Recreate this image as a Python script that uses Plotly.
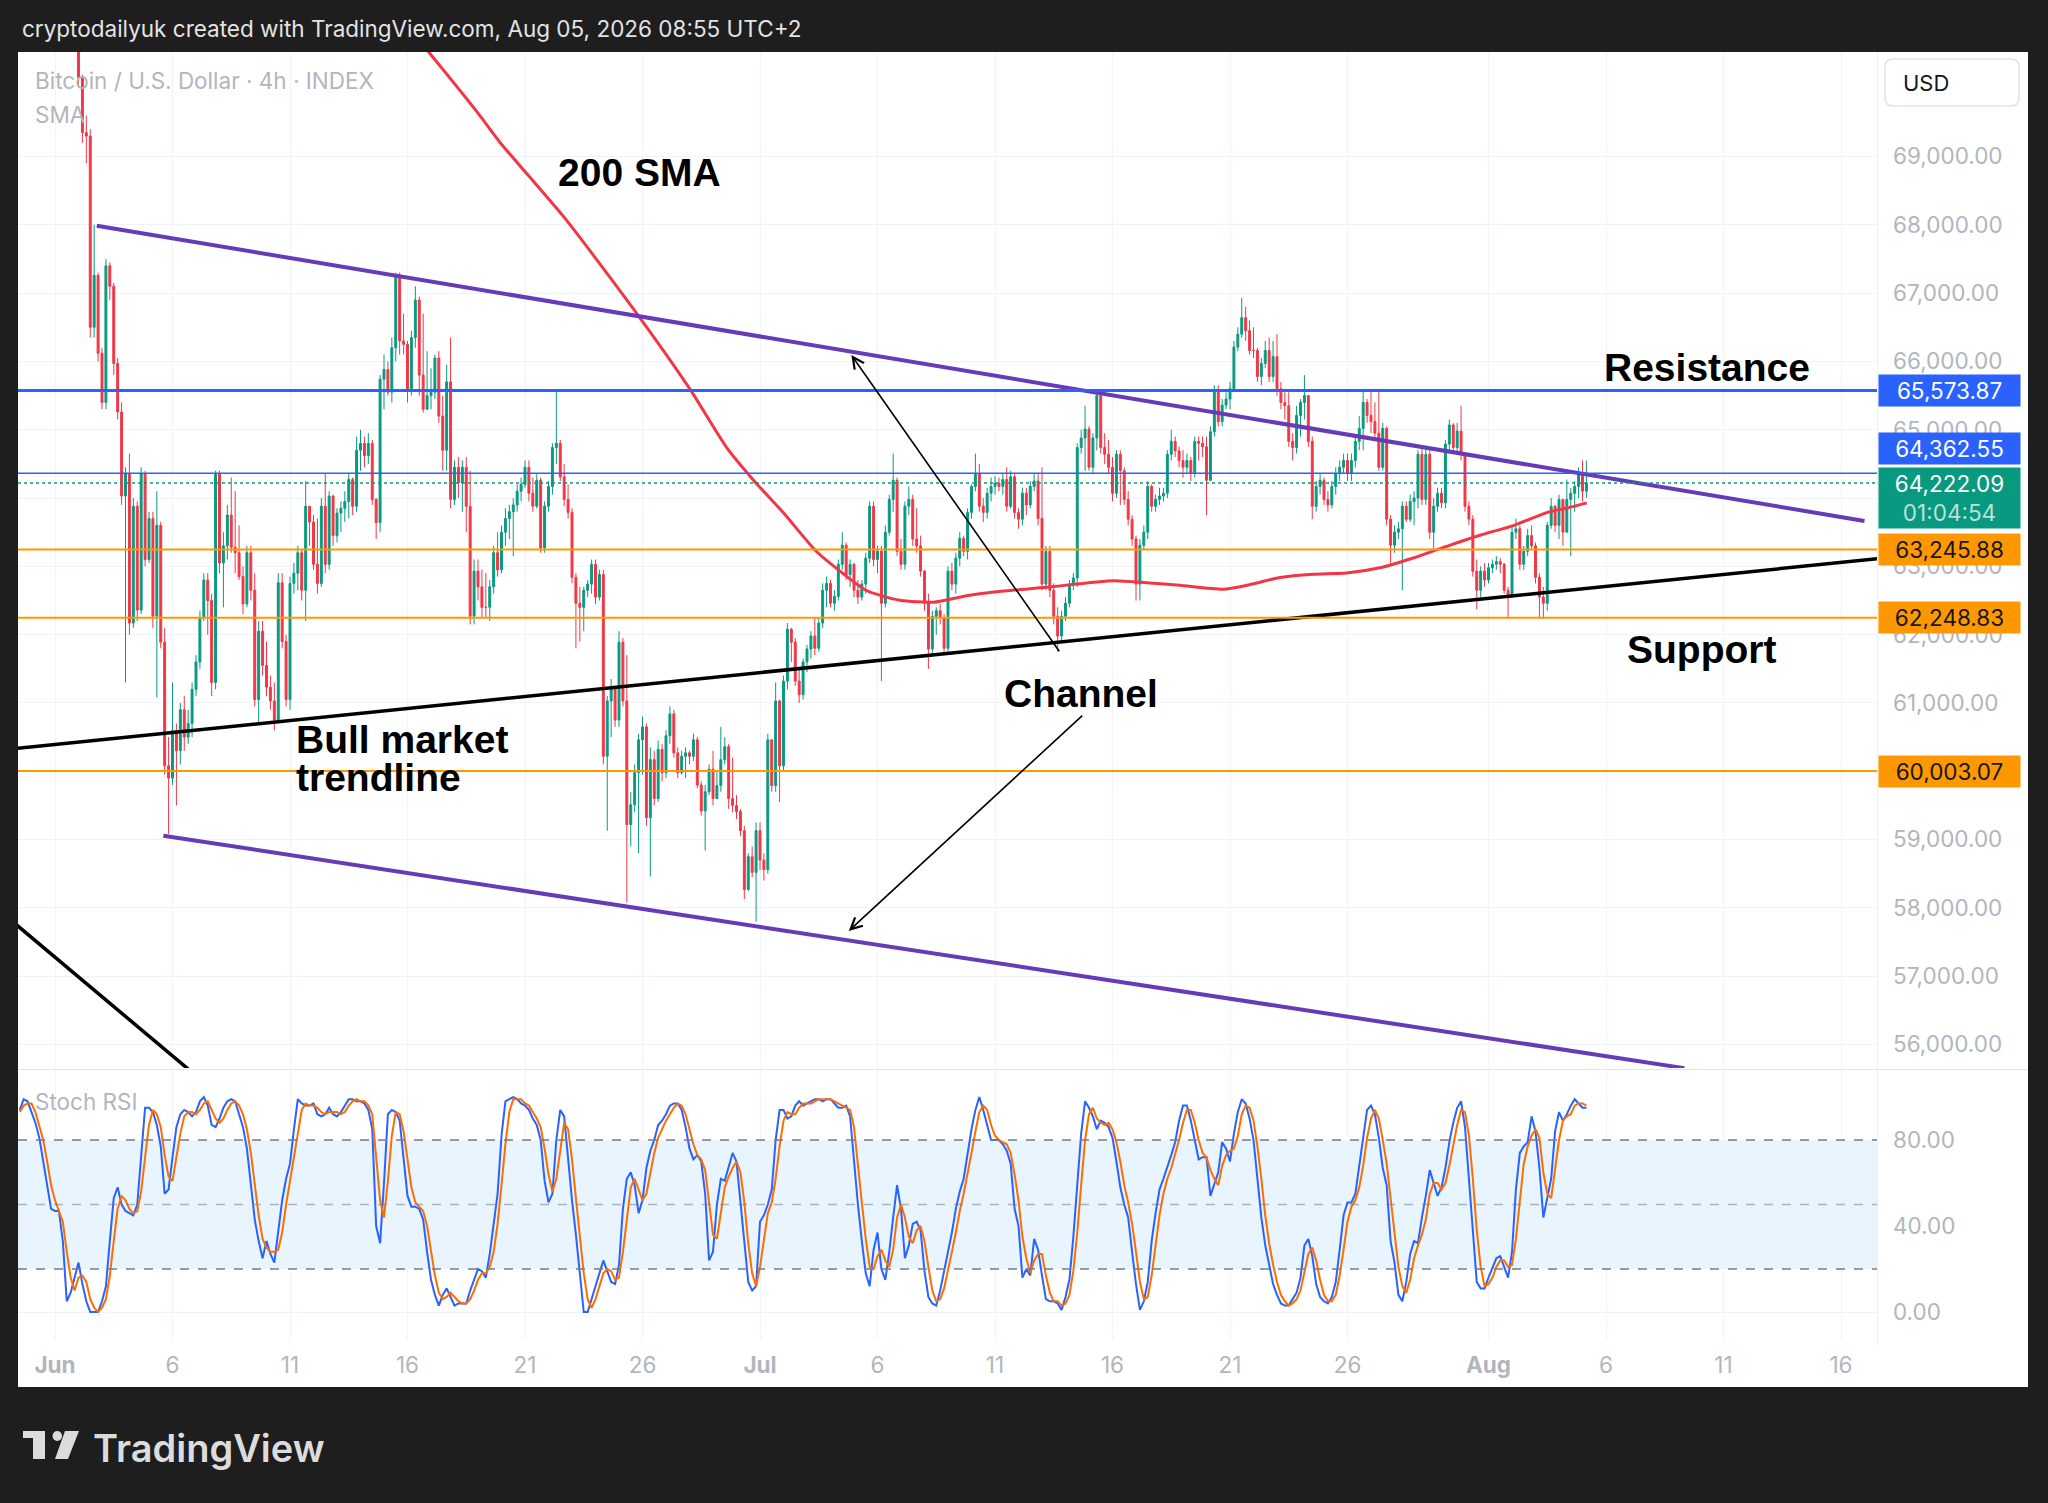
import numpy as np
import pandas as pd
import plotly.graph_objects as go

W, H = 2048, 1503

# ---------------- data ----------------
candle_start = "2026-06-02 00:00"
first_open = 71300
close_px = [
    70150, 69350, 69300, 66500, 67260, 66120,
    65400, 67400, 67100, 65970, 65260, 64030,
    64360, 62170, 63880, 62360, 64360, 63100,
    63700, 62270, 63600, 61890, 60080, 59900,
    60600, 60300, 60900, 60500, 60700, 61200,
    61600, 62250, 62800, 62500, 61300, 64350,
    63050, 63300, 63750, 63280, 63200, 62850,
    62450, 63200, 62650, 61050, 62050, 61550,
    61230, 61030, 60750, 62760, 61900, 61050,
    62750, 62900, 63200, 62650, 63880, 63650,
    63030, 62750, 63880, 63030, 64030, 63450,
    63780, 63850, 63950, 64270, 63880, 64700,
    64800, 64620, 64800, 63980, 63640, 65740,
    65880, 65550, 66200, 67250, 66300, 66250,
    65600, 66350, 66900, 65800, 65300, 65500,
    65550, 66050, 65200, 64700, 65700, 63980,
    64450, 64220, 64450, 63880, 62270, 62930,
    62700, 62400, 62400, 62700, 63200, 62950,
    63500, 63700, 63800, 63900, 64100, 64200,
    64450, 64070, 63880, 64260, 63270, 63880,
    64170, 64740, 64800, 64310, 63980, 63790,
    62840, 62460, 62400, 62650, 62740, 63030,
    62550, 62880, 60220, 61030, 61220, 60750,
    61890, 61030, 59220, 59510, 59980, 60460,
    60650, 59320, 60170, 59600, 60320, 59980,
    60520, 60840, 60270, 59980, 60220, 60270,
    60220, 60460, 59800, 59420, 59700, 60030,
    59600, 59790, 60170, 60360, 59600, 59500,
    59410, 59130, 58270, 58750, 58520, 59130,
    58700, 58560, 60460, 59790, 61030, 60080,
    61320, 62080, 61890, 61320, 61120, 61600,
    61790, 61980, 61800, 62170, 62650, 62750,
    62460, 62560, 63030, 63310, 62880, 63030,
    62650, 62550, 62740, 63120, 63880, 63100,
    63220, 62460, 63500, 63980, 64260, 63220,
    63030, 63880, 63980, 63400, 63300, 62930,
    62460, 61790, 62270, 62350, 62250, 61800,
    62930, 62740, 63120, 63410, 63220, 63790,
    64170, 64360, 63880, 63790, 64070, 64170,
    64220, 64170, 64270, 63880, 64310, 63790,
    63690, 64070, 63900, 64170, 64250, 63700,
    62740, 63220, 62650, 62270, 61980, 62270,
    62460, 62740, 62830, 64740, 64880, 65010,
    64450, 64880, 65500, 64740, 64640, 64450,
    64070, 64640, 64400, 63980, 63690, 63400,
    62740, 63310, 63500, 64170, 63880, 63980,
    64030, 64070, 64640, 64830, 64690, 64550,
    64450, 64550, 64360, 64830, 64800, 64750,
    64260, 64970, 65590, 65120, 65360, 65450,
    65600, 66210, 66400, 66640, 66450, 66160,
    66160, 65780, 65970, 66160, 65780, 66070,
    65600, 65400, 65350, 64830, 64740, 65210,
    65400, 65500, 64830, 63880, 64170, 64260,
    63980, 63900, 64170, 64360, 64450, 64550,
    64360, 64550, 64830, 65020, 65400, 65210,
    65120, 64950, 64450, 65020, 63690, 63310,
    63500, 63550, 63880, 63690, 63950, 64000,
    64640, 63980, 64640, 63500, 63880, 64070,
    63930, 64790, 65070, 64740, 64980, 64640,
    63880, 63690, 62930, 62650, 62930, 62800,
    62980, 63030, 63070, 63030, 62650, 62550,
    63500, 63550, 63030, 63220, 63450, 63300,
    62840, 62550, 62460, 63600, 63880, 63600,
    63980, 63500, 63980, 64070, 64170, 64360,
    64100, 64222.09,
]
high_px = [
    71400, 70200, 69600, 69400, 68000, 67300,
    66200, 67500, 67450, 67150, 66050, 65400,
    64450, 64650, 64000, 63950, 64450, 64400,
    63800, 63800, 64100, 63650, 62100, 60500,
    61300, 60700, 61000, 61100, 60900, 61300,
    61700, 62350, 62900, 62900, 62600, 64400,
    64400, 63500, 63900, 64300, 64100, 63600,
    63000, 63300, 63300, 62900, 62200, 62200,
    61900, 61400, 61300, 62900, 62900, 62000,
    62850, 63050, 63300, 63250, 64250, 63800,
    63750, 63700, 64000, 64360, 64100, 64050,
    63850, 63950, 64100, 64350, 64300, 64900,
    65000, 64900, 64950, 64850, 64000, 65800,
    66100, 66000, 66350, 67300, 67300, 66700,
    66300, 66450, 67100, 66950, 66700, 66150,
    65900, 66100, 66150, 65500, 65950, 66350,
    64550, 64600, 64550, 64600, 64400, 63100,
    63100, 62950, 62900, 62800, 63300, 63500,
    63600, 63850, 63900, 64000, 64200, 64300,
    64550, 64550, 64300, 64350, 64300, 63950,
    64250, 64800, 65580, 64850, 64500, 64200,
    63850, 62900, 62700, 62700, 62800, 63100,
    63100, 62950, 62950, 61100, 61350, 61250,
    62050, 61950, 61700, 59700, 60100, 60550,
    60800, 60700, 60350, 60300, 60450, 60400,
    60600, 60950, 60900, 60350, 60300, 60350,
    60300, 60550, 60500, 59850, 59800, 60100,
    60300, 60000, 60650, 60500, 60400, 60200,
    59650, 59450, 59200, 58800, 58900, 59250,
    59250, 58800, 60550, 60450, 61300, 61050,
    61400, 62170, 62100, 61950, 61500, 61650,
    61850, 62050, 62250, 62250, 62750, 62850,
    62800, 62650, 63100, 63500, 63350, 63100,
    63050, 62800, 62800, 63200, 63950, 63950,
    63300, 63300, 63600, 64050, 64650, 64300,
    63400, 63950, 64170, 64050, 63850, 63450,
    62950, 62600, 62350, 62400, 62450, 62300,
    63000, 63050, 63200, 63500, 63450, 63850,
    64200, 64650, 64500, 64000, 64150, 64300,
    64320, 64300, 64350, 64450, 64400, 64350,
    63850, 64150, 64150, 64250, 64350, 64350,
    64450, 63300, 63300, 62750, 62400, 62350,
    62550, 62800, 62900, 64800, 65000, 65350,
    65050, 64950, 65560, 65450, 64950, 64850,
    64600, 64700, 64700, 64450, 64100, 63750,
    63450, 63400, 63600, 64250, 64200, 64050,
    64150, 64150, 64700, 65000, 64900, 64750,
    64700, 64650, 64600, 64900, 64900, 64900,
    64900, 65050, 65650, 65650, 65450, 65550,
    65700, 66300, 66500, 66930, 66800, 66600,
    66500, 66200, 66050, 66300, 66350, 66300,
    66400, 65700, 65550, 65550, 64950, 65350,
    65450, 65800, 65450, 64900, 64250, 64350,
    64300, 64100, 64250, 64450, 64550, 64650,
    64650, 64650, 64900, 65200, 65600, 65450,
    65600, 65400, 65600, 65100, 65050, 63750,
    63600, 63650, 63950, 63950, 64050, 64100,
    64700, 64750, 64750, 64700, 64000, 64150,
    64150, 64850, 65150, 65100, 65100, 65350,
    64650, 63950, 63750, 63100, 63000, 63050,
    63050, 63100, 63150, 63120, 63050, 62700,
    63600, 63700, 63600, 63300, 63550, 63600,
    63350, 62900, 62700, 63650, 64000, 63900,
    64050, 63950, 64270, 64150, 64250, 64450,
    64550, 64550,
]
low_px = [
    70050, 69200, 68900, 66350, 66350, 66000,
    65300, 65300, 66900, 65800, 65150, 63900,
    61300, 62000, 62100, 62200, 62300, 63000,
    63050, 62100, 61080, 61800, 59950, 59080,
    59800, 59500, 60100, 60300, 60400, 60500,
    61100, 61500, 62200, 62000, 61100, 61200,
    62900, 62400, 63100, 63200, 62900, 62800,
    62300, 62400, 62500, 60950, 60700, 61400,
    61100, 60900, 60600, 60700, 61800, 60950,
    60900, 62600, 62650, 62500, 62200, 63300,
    62950, 62600, 62700, 62900, 62950, 63300,
    63350, 63500, 63650, 63700, 63750, 63800,
    64400, 64450, 64500, 63900, 63400, 63500,
    65300, 65500, 65400, 66000, 66100, 66100,
    65400, 65500, 66200, 65500, 65250, 65300,
    65300, 65450, 65100, 64400, 64400, 63850,
    63900, 64000, 63800, 63500, 62150, 62150,
    62500, 62250, 62250, 62200, 62600, 62850,
    62900, 63300, 63400, 63150, 63800, 63950,
    64150, 63950, 63800, 63850, 63200, 63200,
    63800, 64050, 64500, 64250, 63880, 63700,
    62750, 61800, 61900, 62050, 62550, 62600,
    62450, 62500, 60100, 59130, 60500, 60650,
    60650, 60950, 58080, 58900, 59400, 58800,
    59950, 59200, 58460, 59500, 59550, 59850,
    59900, 60400, 60200, 59900, 59950, 59900,
    60100, 60150, 59750, 59350, 58840, 59650,
    59500, 59600, 59700, 60100, 59450, 59400,
    59300, 59050, 58130, 58250, 58450, 57800,
    58550, 58400, 58500, 59700, 59700, 59550,
    60000, 61200, 61600, 61250, 61000, 61050,
    61450, 61650, 61700, 61750, 62100, 62400,
    62400, 62350, 62500, 62950, 62800, 62700,
    62550, 62450, 62500, 62600, 63050, 63000,
    62900, 61320, 62400, 63450, 63800, 63150,
    62950, 62950, 63750, 63300, 63200, 62850,
    62350, 61500, 61700, 62000, 62150, 61700,
    61750, 62650, 62600, 63000, 63150, 63100,
    63700, 64100, 63800, 63650, 63700, 63950,
    64050, 64100, 64050, 63800, 63850, 63700,
    63550, 63600, 63750, 63850, 64100, 63600,
    62650, 62650, 62550, 62150, 61750, 61900,
    62200, 62400, 62650, 62700, 64650, 64400,
    64400, 64350, 64700, 64650, 64500, 64350,
    63950, 64000, 63900, 63900, 63600, 63300,
    62500, 62500, 63250, 63400, 63800, 63800,
    63900, 63950, 64000, 64550, 64600, 64450,
    64300, 64350, 64250, 64300, 64550, 64600,
    63750, 64250, 64900, 65050, 65050, 65300,
    65300, 65550, 66150, 66350, 66300, 66100,
    66050, 65700, 65650, 65900, 65700, 65700,
    65500, 65300, 65150, 64750, 64550, 64650,
    64900, 65150, 64750, 63690, 63800, 64050,
    63900, 63800, 63850, 64050, 64250, 64350,
    64250, 64250, 64450, 64700, 64700, 65100,
    64950, 64850, 64400, 64400, 63600, 63030,
    63200, 63400, 62650, 63650, 63650, 63600,
    63850, 63900, 63900, 63400, 63250, 63800,
    63850, 63850, 64700, 64650, 64650, 64550,
    63800, 63600, 62850, 62370, 62550, 62700,
    62750, 62900, 62950, 62900, 62600, 62250,
    62550, 63400, 62950, 62950, 63150, 63250,
    62750, 62250, 62230, 62350, 63550, 63500,
    63400, 63300, 63500, 63150, 63800, 64000,
    63950, 64000,
]

sma_time = ["2026-06-16 00:00", "2026-06-16 21:00", "2026-06-19 00:00", "2026-06-19 22:30",
            "2026-06-22 18:30", "2026-06-25 21:20", "2026-06-28 00:30", "2026-06-29 14:00",
            "2026-06-30 17:20", "2026-07-01 23:45", "2026-07-03 09:40", "2026-07-04 09:40",
            "2026-07-05 12:45", "2026-07-06 22:50", "2026-07-08 09:10", "2026-07-09 19:00",
            "2026-07-10 19:00", "2026-07-13 04:50", "2026-07-16 01:00", "2026-07-17 10:50",
            "2026-07-18 20:50", "2026-07-20 17:15", "2026-07-21 17:00", "2026-07-23 03:10",
            "2026-07-24 13:10", "2026-07-25 23:00", "2026-07-27 09:10", "2026-07-28 19:10",
            "2026-07-30 05:15", "2026-07-31 15:20", "2026-08-02 01:25", "2026-08-03 11:30",
            "2026-08-04 07:55", "2026-08-05 04:20"]
sma_val = [70900, 70540, 69634, 69206, 68065, 66639, 65594, 64738, 64262, 63787, 63217, 62931,
           62646, 62503, 62475, 62570, 62618, 62694, 62789, 62760, 62722, 62665, 62722, 62836,
           62884, 62903, 62979, 63122, 63293, 63455, 63597, 63787, 63854, 63930]

stoch_start = "2026-05-30 12:00"
stoch_k = [
    94, 99, 98, 93, 88, 81, 70, 60, 48, 47, 47, 33, 5, 9, 16, 23, 13, 5, 0, 0,
    0, 5, 12, 33, 53, 58, 50, 47, 46, 45, 50, 72, 95, 95, 93, 87, 77, 55, 57, 72,
    86, 92, 94, 93, 91, 93, 98, 100, 96, 87, 86, 90, 95, 98, 99, 98, 92, 86, 76, 60,
    43, 33, 25, 33, 27, 23, 37, 52, 62, 69, 85, 99, 97, 96, 96, 97, 92, 91, 92, 95,
    92, 91, 93, 96, 99, 99, 98, 98, 97, 94, 85, 40, 32, 60, 92, 94, 93, 89, 70, 54,
    49, 49, 48, 43, 28, 15, 8, 3, 8, 11, 7, 3, 4, 4, 4, 10, 15, 20, 19, 16,
    27, 40, 55, 82, 98, 99, 100, 99, 97, 96, 94, 90, 87, 80, 61, 51, 55, 80, 94, 91,
    70, 52, 36, 18, 0, 0, 6, 13, 18, 24, 19, 14, 13, 22, 48, 62, 65, 59, 46, 52,
    67, 75, 80, 87, 89, 92, 96, 97, 97, 94, 86, 76, 71, 73, 70, 55, 24, 28, 50, 62,
    61, 67, 74, 70, 52, 31, 14, 10, 12, 42, 45, 50, 57, 80, 94, 94, 90, 91, 96, 98,
    96, 97, 98, 99, 99, 98, 99, 99, 97, 95, 95, 96, 91, 70, 50, 33, 18, 12, 29, 37,
    20, 15, 28, 44, 59, 48, 25, 31, 41, 42, 38, 19, 7, 4, 3, 10, 19, 27, 37, 48,
    56, 62, 74, 85, 94, 100, 94, 87, 80,
    80, 80, 78, 75, 69, 48, 40, 16, 20, 17, 34, 29, 17, 6, 5, 5, 4, 1, 7, 15,
    35, 60, 83, 98, 95, 91, 85, 89, 88, 86, 81, 70, 58, 50, 44, 28, 13, 1, 5, 14,
    33, 46, 57, 62, 67, 73, 79, 89, 96, 96, 89, 80, 71, 72, 72, 54, 59, 65, 79, 76,
    70, 83, 93, 99, 97, 90, 80, 61, 44, 31, 22, 13, 8, 4, 3, 3, 6, 9, 16, 31,
    34, 26, 13, 7, 5, 4, 7, 14, 29, 45, 51, 51, 55, 67, 81, 94, 96, 92, 81, 67,
    59, 33, 23, 8, 5, 14, 27, 33, 32, 44, 54, 66, 60, 54, 58, 67, 79, 88, 95, 98,
    86, 61, 38, 14, 11, 11, 16, 21, 25, 26, 21, 16, 28, 57, 74, 77, 79, 91, 84, 67,
    44, 53, 62, 84, 93, 89, 92, 96, 99, 97, 95, 95,
]
stoch_d = [
    93, 96, 97, 97, 93, 87, 80, 70, 59, 52, 47, 42, 28, 16, 10, 16, 17, 14, 6, 2,
    0, 2, 6, 17, 33, 48, 54, 52, 48, 46, 47, 56, 72, 87, 94, 92, 86, 73, 63, 61,
    72, 83, 91, 93, 93, 92, 94, 97, 98, 94, 90, 88, 90, 94, 97, 98, 96, 92, 85, 74,
    60, 45, 34, 30, 28, 28, 29, 37, 50, 61, 72, 84, 94, 97, 96, 96, 95, 93, 92, 93,
    93, 93, 92, 93, 96, 98, 99, 98, 98, 96, 92, 73, 52, 44, 61, 82, 93, 92, 84, 71,
    58, 51, 49, 47, 40, 29, 17, 9, 6, 7, 9, 7, 5, 4, 4, 6, 10, 15, 18, 18,
    21, 28, 41, 59, 78, 93, 99, 99, 99, 97, 96, 93, 90, 86, 76, 64, 56, 62, 76, 88,
    85, 71, 53, 35, 18, 6, 2, 6, 12, 18, 20, 19, 15, 16, 28, 44, 58, 62, 57, 52,
    55, 65, 74, 81, 85, 89, 92, 95, 97, 96, 92, 85, 78, 73, 71, 66, 50, 36, 34, 47,
    58, 63, 67, 70, 65, 51, 32, 18, 12, 21, 33, 46, 51, 62, 77, 89, 93, 92, 92, 95,
    97, 97, 97, 98, 99, 99, 99, 99, 98, 97, 96, 95, 94, 86, 70, 51, 34, 21, 20, 26,
    29, 24, 21, 29, 44, 50, 44, 35, 32, 38, 40, 33, 21, 10, 5, 6, 11, 19, 28, 37,
    47, 55, 64, 74, 84, 93, 96, 94, 87,
    82, 80, 79, 78, 74, 64, 52, 35, 25, 18, 24, 27, 27, 17, 9, 5, 5, 3, 4, 8,
    19, 37, 59, 80, 92, 95, 90, 88, 87, 88, 85, 79, 70, 59, 51, 41, 28, 14, 6, 7,
    17, 31, 45, 55, 62, 67, 73, 80, 88, 94, 94, 88, 80, 74, 72, 66, 62, 59, 68, 73,
    75, 76, 82, 92, 96, 95, 89, 77, 62, 45, 32, 22, 14, 8, 5, 3, 4, 6, 10, 19,
    27, 30, 24, 15, 8, 5, 5, 8, 17, 29, 42, 49, 52, 58, 68, 81, 90, 94, 90, 80,
    69, 53, 38, 21, 12, 9, 15, 25, 31, 36, 43, 55, 60, 60, 57, 60, 68, 78, 87, 94,
    93, 82, 62, 38, 21, 12, 13, 16, 21, 24, 24, 21, 22, 34, 53, 69, 77, 82, 85, 81,
    65, 55, 53, 66, 80, 89, 91, 92, 96, 97, 97, 96,
]

# drawings (time, price)
upper_channel_t = ["2026-06-02 18:40", "2026-08-17 00:00"]
upper_channel_p = [67987, 63665]
lower_channel_t = ["2026-06-05 14:40", "2026-08-09 08:00"]
lower_channel_p = [59057, 55654]
bull_trend_t = ["2026-05-30 10:13", "2026-08-17 12:46"]
bull_trend_p = [60338, 63111]
old_trend_t = ["2026-05-29 12:00", "2026-06-07 12:00"]
old_trend_p = [58000, 55400]
arrow_heads_t = ["2026-07-04 21:20", "2026-07-04 18:40"]
arrow_heads_p = [66094, 57662]
arrow_tails_t = ["2026-07-13 18:40", "2026-07-14 18:40"]
arrow_tails_p = [61734, 60836]

resistance_levels = [65573.87, 64362.55]
support_levels = [63245.88, 62248.83, 60003.07]
last_price = 64222.09
countdown = "01:04:54"
stoch_bands = [80, 50, 20]

price_ticks = list(range(56000, 70000, 1000))
hidden_price_ticks = [60000]  # fully covered by the 60,003.07 label on the chart
stoch_ticks = [0, 40, 80]
date_ticks = ["2026-06-01", "2026-06-06", "2026-06-11", "2026-06-16", "2026-06-21", "2026-06-26",
              "2026-07-01", "2026-07-06", "2026-07-11", "2026-07-16", "2026-07-21", "2026-07-26",
              "2026-08-01", "2026-08-06", "2026-08-11", "2026-08-16"]
date_labels = ["<b>Jun</b>", "6", "11", "16", "21", "26", "<b>Jul</b>", "6", "11", "16", "21", "26",
               "<b>Aug</b>", "6", "11", "16"]
x_view = ["2026-05-30 10:13", "2026-08-17 12:46"]
price_view = [55656, 70530]
stoch_view = [-13.0, 112.1]

# ---------------- build ----------------
n = min(len(close_px), len(high_px), len(low_px))
close_px, high_px, low_px = close_px[:n], high_px[:n], low_px[:n]
times = pd.date_range(candle_start, periods=n, freq="4h")
open_px = [first_open] + close_px[:-1]
hi = np.maximum.reduce([np.array(high_px, float), np.array(open_px, float), np.array(close_px, float)])
lo = np.minimum.reduce([np.array(low_px, float), np.array(open_px, float), np.array(close_px, float)])

m = min(len(stoch_k), len(stoch_d))
stoch_t = pd.date_range(stoch_start, periods=m, freq="4h")


def px(v):
    return v / W


def py(v):
    return 1 - v / H


UP, DN = "#089981", "#f23645"
PURPLE = "#673ab7"
BLUE = "#2962ff"
ORANGE = "#ff9800"
GRID = "#f0f3fa"
AX = "#b2b5be"
BG = "#1e1e1e"
UI = "Inter, Roboto, sans-serif"
BOLD = "Liberation Sans, Arial, sans-serif"

fig = go.Figure()

fig.add_trace(go.Candlestick(
    x=times, open=open_px, high=hi, low=lo, close=close_px,
    increasing=dict(line=dict(color=UP, width=1), fillcolor=UP),
    decreasing=dict(line=dict(color=DN, width=1), fillcolor=DN),
    whiskerwidth=0, hoverinfo="skip", xaxis="x", yaxis="y"))

fig.add_trace(go.Scatter(x=sma_time, y=sma_val, mode="lines",
                         line=dict(color="#f23645", width=3, shape="spline", smoothing=0.6),
                         hoverinfo="skip", xaxis="x", yaxis="y"))

for t, p, c, w in [(upper_channel_t, upper_channel_p, PURPLE, 4),
                   (lower_channel_t, lower_channel_p, PURPLE, 4),
                   (bull_trend_t, bull_trend_p, "#000000", 3.5),
                   (old_trend_t, old_trend_p, "#000000", 3.5)]:
    fig.add_trace(go.Scatter(x=t, y=p, mode="lines", line=dict(color=c, width=w),
                             hoverinfo="skip", xaxis="x", yaxis="y"))

fig.add_trace(go.Scatter(x=stoch_t, y=stoch_k[:m], mode="lines", line=dict(color=BLUE, width=2),
                         hoverinfo="skip", xaxis="x2", yaxis="y2"))
fig.add_trace(go.Scatter(x=stoch_t, y=stoch_d[:m], mode="lines", line=dict(color="#ff6d00", width=2),
                         hoverinfo="skip", xaxis="x2", yaxis="y2"))

shapes = []
# white panel
shapes.append(dict(type="rect", xref="paper", yref="paper", x0=px(18), x1=px(2028), y0=py(1387), y1=py(52),
                   fillcolor="white", line=dict(width=0), layer="below"))
# stoch band (below grid)
shapes.append(dict(type="rect", xref="x2 domain", yref="y2", x0=0, x1=1, y0=stoch_bands[2], y1=stoch_bands[0],
                   fillcolor="rgba(33,150,243,0.10)", line=dict(width=0), layer="below"))
# horizontal levels
shapes.append(dict(type="line", xref="x domain", yref="y", x0=0, x1=1, y0=resistance_levels[0], y1=resistance_levels[0],
                   line=dict(color=BLUE, width=3)))
shapes.append(dict(type="line", xref="x domain", yref="y", x0=0, x1=1, y0=resistance_levels[1], y1=resistance_levels[1],
                   line=dict(color=BLUE, width=1.5)))
for lv in support_levels:
    shapes.append(dict(type="line", xref="x domain", yref="y", x0=0, x1=1, y0=lv, y1=lv,
                       line=dict(color=ORANGE, width=2)))
shapes.append(dict(type="line", xref="x domain", yref="y", x0=0, x1=1, y0=last_price, y1=last_price,
                   line=dict(color=UP, width=1.5, dash="dot")))
# stoch dashed levels
for lv, col in zip(stoch_bands, ["#787b86", "rgba(120,123,134,0.55)", "#787b86"]):
    shapes.append(dict(type="line", xref="x2 domain", yref="y2", x0=0, x1=1, y0=lv, y1=lv,
                       line=dict(color=col, width=1.5, dash="dash")))
# pane separators
shapes.append(dict(type="line", xref="paper", yref="paper", x0=px(18), x1=px(2028), y0=py(1069.5), y1=py(1069.5),
                   line=dict(color="#e0e3eb", width=1)))
shapes.append(dict(type="line", xref="paper", yref="paper", x0=px(1877.5), x1=px(1877.5), y0=py(1345), y1=py(52),
                   line=dict(color="#eceff4", width=1)))
# USD box (rounded)
bx0, bx1, by0, by1, r = 1885, 2019, 59, 106, 8
path = (f"M {px(bx0 + r)},{py(by0)} L {px(bx1 - r)},{py(by0)} Q {px(bx1)},{py(by0)} {px(bx1)},{py(by0 + r)} "
        f"L {px(bx1)},{py(by1 - r)} Q {px(bx1)},{py(by1)} {px(bx1 - r)},{py(by1)} "
        f"L {px(bx0 + r)},{py(by1)} Q {px(bx0)},{py(by1)} {px(bx0)},{py(by1 - r)} "
        f"L {px(bx0)},{py(by0 + r)} Q {px(bx0)},{py(by0)} {px(bx0 + r)},{py(by0)} Z")
shapes.append(dict(type="path", xref="paper", yref="paper", path=path, fillcolor="white",
                   line=dict(color="#e0e3eb", width=1.5)))
# TradingView logo mark
LOGO = "#dcdcdc"
shapes.append(dict(type="rect", xref="paper", yref="paper", x0=px(23), x1=px(45), y0=py(1438), y1=py(1431),
                   fillcolor=LOGO, line=dict(width=0)))
shapes.append(dict(type="rect", xref="paper", yref="paper", x0=px(33), x1=px(45), y0=py(1459), y1=py(1431),
                   fillcolor=LOGO, line=dict(width=0)))
shapes.append(dict(type="circle", xref="paper", yref="paper", x0=px(52.5), x1=px(62), y0=py(1441), y1=py(1431),
                   fillcolor=LOGO, line=dict(width=0)))
shapes.append(dict(type="path", xref="paper", yref="paper",
                   path=f"M {px(65)},{py(1431)} L {px(79)},{py(1431)} L {px(68)},{py(1459)} L {px(55)},{py(1459)} Z",
                   fillcolor=LOGO, line=dict(width=0)))

ann = []
ann.append(dict(xref="paper", yref="paper", x=px(20), y=py(29), xanchor="left", yanchor="middle",
                text="cryptodailyuk created with TradingView.com, Aug 05, 2026 08:55 UTC+2",
                showarrow=False, font=dict(family=UI, size=22.5, color="#e3e3e3")))
ann.append(dict(xref="paper", yref="paper", x=px(91), y=py(1448), xanchor="left", yanchor="middle",
                text="TradingView", showarrow=False, font=dict(family=UI, size=38, color=LOGO, weight=600)))
for txt, yy in [("Bitcoin / U.S. Dollar · 4h · INDEX", 81), ("SMA", 114), ("Stoch RSI", 1101)]:
    ann.append(dict(xref="paper", yref="paper", x=px(33), y=py(yy), xanchor="left", yanchor="middle",
                    text=txt, showarrow=False, font=dict(family=UI, size=22.5, color=AX)))
ann.append(dict(xref="paper", yref="paper", x=px(1901), y=py(83), xanchor="left", yanchor="middle",
                text="USD", showarrow=False, font=dict(family=UI, size=22, color="#131722")))
for txt, xx, yy in [("200 SMA", 556, 172), ("Resistance", 1602, 367), ("Support", 1625, 649),
                    ("Channel", 1002, 693), ("Bull market", 294, 739), ("trendline", 294, 777)]:
    ann.append(dict(xref="paper", yref="paper", x=px(xx), y=py(yy), xanchor="left", yanchor="middle",
                    text=f"<b>{txt}</b>", showarrow=False, font=dict(family=BOLD, size=39, color="#000000")))
for ht, hp, tt, tp in zip(arrow_heads_t, arrow_heads_p, arrow_tails_t, arrow_tails_p):
    ann.append(dict(xref="x", yref="y", axref="x", ayref="y", x=ht, y=hp, ax=tt, ay=tp, text="",
                    showarrow=True, arrowhead=5, arrowsize=1.4, arrowwidth=1.6, arrowcolor="#000000", standoff=0))


def box(y, text, bg, fg, yshift=0, height=23, yanchor="middle"):
    ann.append(dict(xref="paper", yref="y", x=px(1878), y=y, xanchor="left", yanchor=yanchor, yshift=yshift,
                    text=text, showarrow=False, bgcolor=bg, width=133, height=height, borderpad=4,
                    align="center", valign="middle", font=dict(family=UI, size=22.5, color=fg)))


box(resistance_levels[0], f"{resistance_levels[0]:,.2f}", BLUE, "white")
box(resistance_levels[1], f"{resistance_levels[1]:,.2f}", BLUE, "white", yshift=25)
box(last_price, f"{last_price:,.2f}<br><span style='color:rgba(255,255,255,0.72)'>{countdown}</span>",
    UP, "white", yshift=16, height=52, yanchor="top")
for lv in support_levels:
    box(lv, f"{lv:,.2f}", ORANGE, "#131722")

axis_font = dict(family=UI, size=22.5, color=AX)
price_text = ["" if v in hidden_price_ticks else f"{v:,.2f}" for v in price_ticks]
fig.update_layout(
    width=W, height=H, autosize=False,
    margin=dict(l=0, r=0, t=0, b=0),
    paper_bgcolor=BG, plot_bgcolor="white",
    showlegend=False, shapes=shapes, annotations=ann,
    xaxis=dict(domain=[px(18), px(1877)], anchor="y", type="date", range=x_view,
               tickvals=date_ticks, showticklabels=False, showgrid=True, gridcolor=GRID, gridwidth=1,
               zeroline=False, showline=False, ticks="", rangeslider=dict(visible=False), fixedrange=True),
    yaxis=dict(domain=[py(1068), py(52)], anchor="x", side="right", range=price_view,
               tickvals=price_ticks, ticktext=price_text, tickfont=axis_font, ticklabelstandoff=15,
               showgrid=True, gridcolor=GRID, zeroline=False, showline=False, ticks="", fixedrange=True),
    xaxis2=dict(domain=[px(18), px(1877)], anchor="y2", type="date", range=x_view, matches="x",
                tickvals=date_ticks, ticktext=date_labels, tickfont=axis_font, ticklabelstandoff=9,
                showgrid=True, gridcolor=GRID, zeroline=False, showline=False, ticks="",
                rangeslider=dict(visible=False), fixedrange=True),
    yaxis2=dict(domain=[py(1340), py(1071)], anchor="x2", side="right", range=stoch_view,
                tickvals=stoch_ticks, ticktext=[f"{v:.2f}" for v in stoch_ticks], tickfont=axis_font,
                ticklabelstandoff=15, showgrid=True, gridcolor=GRID, zeroline=False, showline=False,
                ticks="", fixedrange=True),
)

fig.write_html("out.html", include_plotlyjs=True, config={"displayModeBar": False, "staticPlot": True},
               post_script="document.body.style.margin='0';document.body.style.overflow='hidden';"
                           "document.body.style.background='#1e1e1e';")
